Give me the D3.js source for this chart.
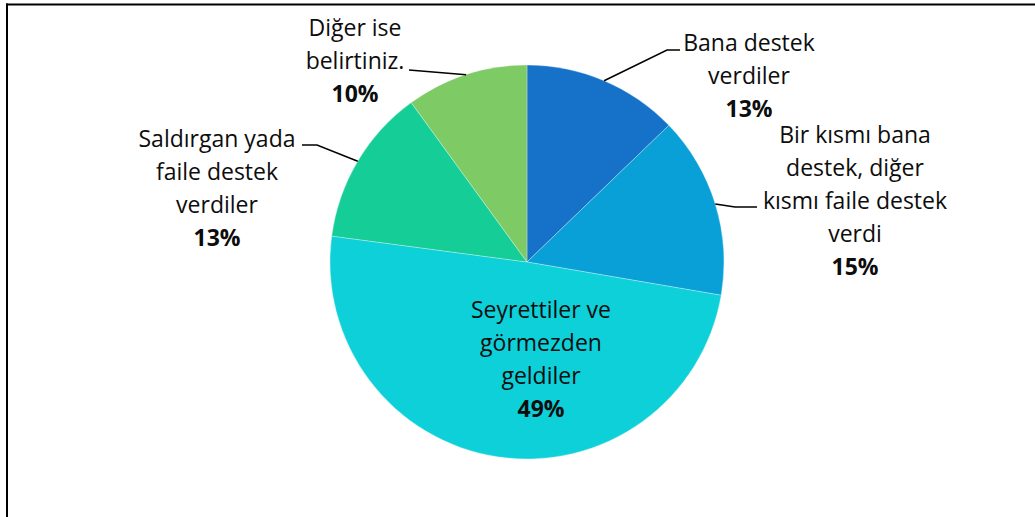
<!DOCTYPE html>
<html>
<head>
<meta charset="utf-8">
<script src="https://cdn.jsdelivr.net/npm/d3@7"></script>
<style>
  body { margin: 0; background: #fff; }
  text { font-family: "Open Sans", "Noto Sans", sans-serif; fill: #0d0d0d; }
</style>
</head>
<body>
<div class="chart"></div>
<script>
var svgWidth = 1035;
var svgHeight = 517;

// data
var categories = [
  ["Bana destek", "verdiler"],
  ["Bir kısmı bana", "destek, diğer", "kısmı faile destek", "verdi"],
  ["Seyrettiler ve", "görmezden", "geldiler"],
  ["Saldırgan yada", "faile destek", "verdiler"],
  ["Diğer ise", "belirtiniz."]
];
var values = [12.8, 14.9, 49.4, 12.9, 10.0];
var colors = ["#1672c8", "#08a0d7", "#0dd0d9", "#15cd96", "#7ecb65"];

// label layout: center x, first line center y, and leader line elbows
var labelPos = [
  { x: 749, y: 43, elbow: [667, 50], end: [680, 50] },
  { x: 855, y: 135, elbow: [735, 207], end: [757, 207] },
  { x: 541, y: 310, elbow: null },
  { x: 217, y: 139, elbow: [317, 145], end: [302, 145] },
  { x: 355, y: 28, elbow: null, end: [409, 70] }
];
var lineH = 33;

var cx = 527, cy = 262, radius = 197;

var svg = d3.select(".chart")
  .append("svg")
  .attr("width", svgWidth)
  .attr("height", svgHeight);

// frame
svg.append("line")
  .attr("x1", 6).attr("x2", svgWidth)
  .attr("y1", 4.5).attr("y2", 4.5)
  .attr("stroke", "#000").attr("stroke-width", 2);
svg.append("line")
  .attr("x1", 7).attr("x2", 7)
  .attr("y1", 3.5).attr("y2", svgHeight)
  .attr("stroke", "#000").attr("stroke-width", 2);

var pie = d3.pie().sort(null).value(d => d);
var arcs = pie(values);
var total = d3.sum(values);

var arc = d3.arc().innerRadius(0).outerRadius(radius);

var chartGroup = svg.append("g")
  .attr("transform", `translate(${cx}, ${cy})`);

chartGroup.selectAll("path")
  .data(arcs)
  .enter()
  .append("path")
  .attr("d", arc)
  .attr("fill", (d, i) => colors[i])
  .attr("stroke", "#fff")
  .attr("stroke-width", 0.3);

// leader lines from slice mid-arc to label
arcs.forEach(function(d, i) {
  var p = labelPos[i];
  if (!p.end) return;
  var mid = (d.startAngle + d.endAngle) / 2;
  var sx = cx + radius * Math.sin(mid);
  var sy = cy - radius * Math.cos(mid);
  var pts = [[sx, sy]];
  if (p.elbow) pts.push(p.elbow);
  pts.push(p.end);
  svg.append("path")
    .attr("d", d3.line()(pts))
    .attr("fill", "none")
    .attr("stroke", "#000")
    .attr("stroke-width", 1.5);
});

// labels
arcs.forEach(function(d, i) {
  var p = labelPos[i];
  var lines = categories[i];
  var t = svg.append("text")
    .attr("text-anchor", "middle")
    .attr("font-size", "23px");
  lines.forEach(function(l, k) {
    t.append("tspan")
      .attr("x", p.x)
      .attr("y", p.y + k * lineH)
      .attr("dy", "0.36em")
      .text(l);
  });
  t.append("tspan")
    .attr("x", p.x)
    .attr("y", p.y + lines.length * lineH)
    .attr("dy", "0.36em")
    .attr("font-weight", "bold")
    .text(Math.round(d.data / total * 100) + "%");
});
</script>
</body>
</html>
